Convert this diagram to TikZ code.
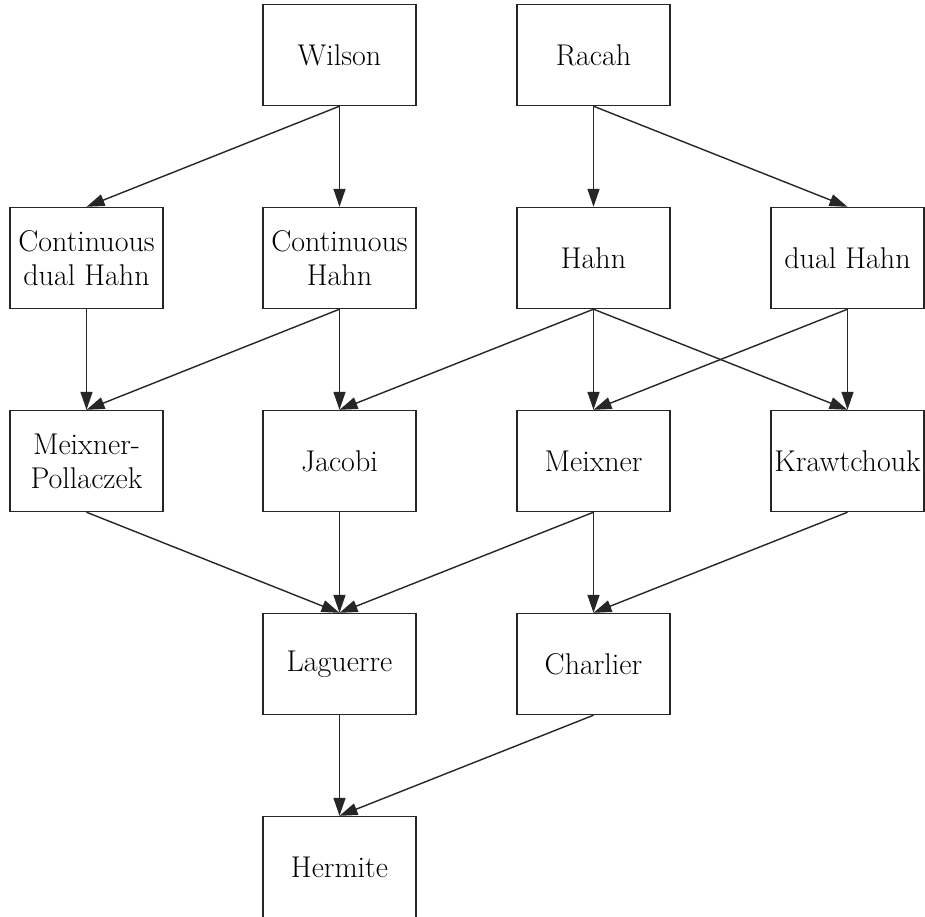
\documentclass[tikz,border=0pt]{standalone}
\usetikzlibrary{arrows.meta}
\begin{document}
\begin{tikzpicture}[x=1pt,y=-1pt,
  box/.style={draw=black!85,line width=1.4pt,minimum width=153pt,minimum height=101pt,inner sep=0pt,align=center,font=\fontsize{30}{34}\selectfont},
  arr/.style={draw=black!85,line width=1.4pt,-{Triangle[length=18pt,width=12pt]}}]
\useasboundingbox (0,0) rectangle (925,916);
\clip (0,0) rectangle (925,916);
\fill[white] (0,0) rectangle (925,916);
\node[box] (w) at (339.5,55) {Wilson};
\node[box] (r) at (593.5,55) {Racah};
\node[box] (cdh) at (86.5,258) {Continuous\\dual Hahn};
\node[box] (ch) at (339.5,258) {Continuous\\Hahn};
\node[box] (h) at (593.5,258) {Hahn};
\node[box] (dh) at (847.5,258) {dual Hahn};
\node[box] (mp) at (86.5,461) {Meixner-\\Pollaczek};
\node[box] (j) at (339.5,461) {Jacobi};
\node[box] (m) at (593.5,461) {Meixner};
\node[box] (k) at (847.5,461) {Krawtchouk};
\node[box] (l) at (339.5,664) {Laguerre};
\node[box] (c) at (593.5,664) {Charlier};
\node[box] (he) at (339.5,867) {Hermite};
\draw[arr] (w.south) -- (cdh.north);
\draw[arr] (w.south) -- (ch.north);
\draw[arr] (r.south) -- (h.north);
\draw[arr] (r.south) -- (dh.north);
\draw[arr] (cdh.south) -- (mp.north);
\draw[arr] (ch.south) -- (mp.north);
\draw[arr] (ch.south) -- (j.north);
\draw[arr] (h.south) -- (j.north);
\draw[arr] (h.south) -- (m.north);
\draw[arr] (h.south) -- (k.north);
\draw[arr] (dh.south) -- (m.north);
\draw[arr] (dh.south) -- (k.north);
\draw[arr] (mp.south) -- (l.north);
\draw[arr] (j.south) -- (l.north);
\draw[arr] (m.south) -- (l.north);
\draw[arr] (m.south) -- (c.north);
\draw[arr] (k.south) -- (c.north);
\draw[arr] (l.south) -- (he.north);
\draw[arr] (c.south) -- (he.north);
\end{tikzpicture}
\end{document}
